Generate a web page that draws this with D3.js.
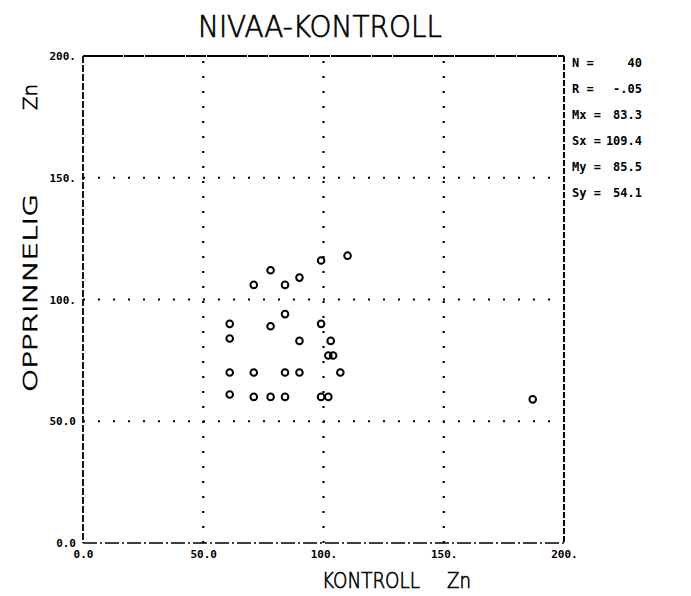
<!DOCTYPE html>
<html>
<head>
<meta charset="utf-8">
<script src="https://cdn.jsdelivr.net/npm/d3@7"></script>
<style>
  html, body { margin: 0; padding: 0; background: #fff; }
  svg { display: block; }
  text { fill: #000; }
  .pen { stroke: #000; stroke-width: 0.7px; }
</style>
</head>
<body>
<svg id="chart" width="691" height="596"></svg>
<script>
// Zn level: original vs. control measurements
const kontroll = [110, 99, 78, 90, 84, 71, 84, 61, 78, 99, 61, 90, 103, 102, 104,
                  61, 71, 84, 90, 107, 61, 71, 78, 84, 99, 102, 187];
const opprinnelig = [118, 116, 112, 109, 106, 106, 94, 90, 89, 90, 84, 83, 83, 77, 77,
                     70, 70, 70, 70, 70, 61, 60, 60, 60, 60, 60, 59];

const xTicks = [0, 50, 100, 150, 200];
const xTickLabels = ["0.0", "50.0", "100.", "150.", "200."];
const yTicks = [0, 50, 100, 150, 200];
const yTickLabels = ["0.0", "50.0", "100.", "150.", "200."];

const statNames = ["N =", "R =", "Mx =", "Sx =", "My =", "Sy ="];
const statValues = ["40", "-.05", "83.3", "109.4", "85.5", "54.1"];

const svg = d3.select("#chart");
const pLeft = 83, pRight = 564, pTop = 56, pBottom = 543;

const x = d3.scaleLinear().domain([0, 200]).range([pLeft, pRight]);
const y = d3.scaleLinear().domain([0, 200]).range([pBottom, pTop]);

// dotted grid at inner ticks
const grid = svg.append("g").attr("stroke", "#000").attr("stroke-width", 2.2)
  .attr("stroke-dasharray", "2 13").attr("fill", "none");
xTicks.slice(1, -1).forEach(t => {
  grid.append("line").attr("x1", x(t)).attr("x2", x(t)).attr("y1", pBottom).attr("y2", pTop);
});
yTicks.slice(1, -1).forEach(t => {
  grid.append("line").attr("x1", pLeft).attr("x2", pRight).attr("y1", y(t)).attr("y2", y(t));
});

// frame: each side drawn in its own pen style
const frame = svg.append("g").attr("stroke", "#000").attr("fill", "none");
frame.append("line").attr("x1", pLeft).attr("x2", pRight).attr("y1", pTop).attr("y2", pTop)
  .attr("stroke-width", 2).attr("stroke-dasharray", "40 1 20 1");
frame.append("line").attr("x1", pLeft).attr("x2", pLeft).attr("y1", pTop).attr("y2", pBottom)
  .attr("stroke-width", 1.8).attr("stroke-dasharray", "7 2");
frame.append("line").attr("x1", pRight).attr("x2", pRight).attr("y1", pTop).attr("y2", pBottom)
  .attr("stroke-width", 2).attr("stroke-dasharray", "6 2");
frame.append("line").attr("x1", pLeft).attr("x2", pRight).attr("y1", pBottom).attr("y2", pBottom)
  .attr("stroke-width", 1.6).attr("stroke-dasharray", "14 3 2 3");

// axis labels via d3 axes (tick lines hidden)
const xAxis = d3.axisBottom(x).tickValues(xTicks).tickSize(0)
  .tickFormat((d, i) => xTickLabels[i]);
const gx = svg.append("g").attr("transform", `translate(0,${pBottom + 2})`).call(xAxis);
gx.select(".domain").remove();
gx.selectAll("text").attr("font-family", "DejaVu Sans Mono").attr("font-size", 11)
  .attr("font-weight", "bold").attr("dy", "0.9em");

const yAxis = d3.axisLeft(y).tickValues(yTicks).tickSize(0)
  .tickFormat((d, i) => yTickLabels[i]);
const gy = svg.append("g").attr("transform", `translate(${pLeft - 4},0)`).call(yAxis);
gy.select(".domain").remove();
gy.selectAll("text").attr("font-family", "DejaVu Sans Mono").attr("font-size", 11)
  .attr("font-weight", "bold");

// points
svg.append("g").selectAll("circle").data(kontroll).join("circle")
  .attr("cx", d => x(d))
  .attr("cy", (d, i) => y(opprinnelig[i]))
  .attr("r", 3.3)
  .attr("fill", "none").attr("stroke", "#000").attr("stroke-width", 2);

// title
svg.append("text").attr("class", "pen").attr("x", 320).attr("y", 37).attr("text-anchor", "middle")
  .attr("font-family", "DejaVu Sans").attr("font-size", 31).attr("font-weight", 200)
  .attr("textLength", 244).attr("lengthAdjust", "spacingAndGlyphs")
  .text("NIVAA-KONTROLL");

// x-axis title
svg.append("text").attr("class", "pen").attr("x", 322).attr("y", 588)
  .attr("font-family", "DejaVu Sans").attr("font-size", 22).attr("font-weight", 200)
  .attr("textLength", 98).attr("lengthAdjust", "spacingAndGlyphs").text("KONTROLL");
svg.append("text").attr("class", "pen").attr("x", 447).attr("y", 588)
  .attr("font-family", "DejaVu Sans").attr("font-size", 22).attr("font-weight", 200)
  .attr("textLength", 24).attr("lengthAdjust", "spacingAndGlyphs").text("Zn");

// y-axis title (rotated)
svg.append("text").attr("class", "pen").attr("transform", "translate(37,392) rotate(-90)")
  .attr("font-family", "DejaVu Sans").attr("font-size", 20).attr("font-weight", 200)
  .attr("textLength", 198).attr("lengthAdjust", "spacingAndGlyphs").text("OPPRINNELIG");
svg.append("text").attr("class", "pen").attr("transform", "translate(37,110) rotate(-90)")
  .attr("font-family", "DejaVu Sans").attr("font-size", 20).attr("font-weight", 200)
  .attr("textLength", 26).attr("lengthAdjust", "spacingAndGlyphs").text("Zn");

// statistics block
const stats = svg.append("g").attr("font-family", "DejaVu Sans Mono")
  .attr("font-size", 12).attr("font-weight", "bold");
statNames.forEach((s, i) => {
  const yy = 67 + i * 26;
  stats.append("text").attr("x", 572).attr("y", yy).text(s);
  stats.append("text").attr("x", 642).attr("y", yy).attr("text-anchor", "end").text(statValues[i]);
});
</script>
</body>
</html>
